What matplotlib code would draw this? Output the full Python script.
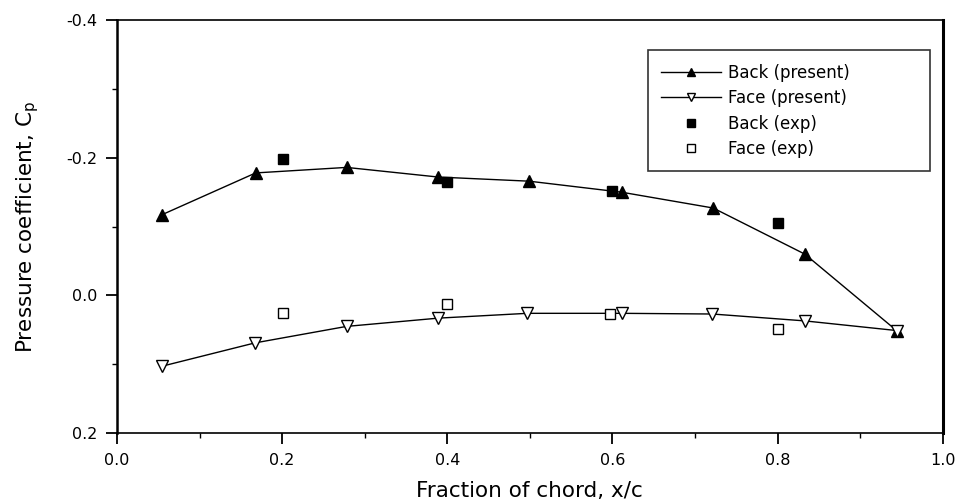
import matplotlib
matplotlib.use('Agg')
import matplotlib.pyplot as plt
from matplotlib.ticker import MultipleLocator

plt.rcParams['font.family'] = ['DejaVu Sans']

# Back surface, present computation
back_x = [0.054, 0.168, 0.278, 0.389, 0.499, 0.611, 0.722, 0.833, 0.944]
back_cp = [-0.117, -0.178, -0.186, -0.172, -0.166, -0.150, -0.127, -0.060, 0.051]

# Face surface, present computation
face_x = [0.054, 0.167, 0.278, 0.389, 0.497, 0.611, 0.721, 0.833, 0.944]
face_cp = [0.103, 0.069, 0.045, 0.033, 0.026, 0.026, 0.027, 0.037, 0.051]

# Experiments
back_exp_x = [0.201, 0.400, 0.599, 0.800]
back_exp_cp = [-0.198, -0.165, -0.151, -0.105]
face_exp_x = [0.201, 0.400, 0.597, 0.800]
face_exp_cp = [0.026, 0.013, 0.027, 0.049]

xticks = [0.0, 0.2, 0.4, 0.6, 0.8, 1.0]
xtick_labels = ['0.0', '0.2', '0.4', '0.6', '0.8', '1.0']
yticks = [-0.4, -0.2, 0.0, 0.2]
ytick_labels = ['-0.4', '-0.2', '0.0', '0.2']

fig = plt.figure(figsize=(9.62, 5.03), dpi=100)
ax = fig.add_axes([0.1216, 0.139, 0.8584, 0.821])

ax.plot(back_x, back_cp, 'k-', marker='^', markersize=8, lw=1,
        markerfacecolor='black', label='Back (present)')
ax.plot(face_x, face_cp, 'k-', marker='v', markersize=8, lw=1, markeredgewidth=1,
        markerfacecolor='white', label='Face (present)')
ax.plot(back_exp_x, back_exp_cp, 'ks', markersize=7.5, linestyle='none',
        label='Back (exp)')
ax.plot(face_exp_x, face_exp_cp, 's', markersize=7.5, linestyle='none', markeredgewidth=1,
        markerfacecolor='white', markeredgecolor='black', label='Face (exp)')

ax.set_xlim(0.0, 1.0)
ax.set_ylim(0.2, -0.4)
ax.set_xticks(xticks)
ax.set_xticklabels(xtick_labels)
ax.set_yticks(yticks)
ax.set_yticklabels(ytick_labels)
ax.xaxis.set_minor_locator(MultipleLocator(0.1))
ax.yaxis.set_minor_locator(MultipleLocator(0.1))
ax.tick_params(which='major', direction='out', length=8, width=1.3, labelsize=11.5,
               pad=6, top=False, right=False)
ax.tick_params(which='minor', direction='out', length=3.5, width=1, top=False, right=False)
for s in ax.spines.values():
    s.set_linewidth(1.2)
ax.spines['right'].set_linewidth(2.2)
ax.spines['left'].set_linewidth(1.8)

ax.set_xlabel('Fraction of chord, x/c', fontsize=15.5, labelpad=10)
ax.set_ylabel('Pressure coefficient, C$_\\mathrm{p}$', fontsize=15.5, labelpad=18)

leg = ax.legend(loc='upper left', bbox_to_anchor=(0.643, 0.632, 0.341, 0.295),
                mode='expand', fontsize=12, frameon=True, fancybox=False,
                edgecolor='black', handlelength=3.6, handletextpad=0.4,
                borderpad=0.8, labelspacing=0.45, borderaxespad=0,
                markerscale=0.8)
leg.get_frame().set_linewidth(1.2)

fig.savefig('out.png', dpi=100)
